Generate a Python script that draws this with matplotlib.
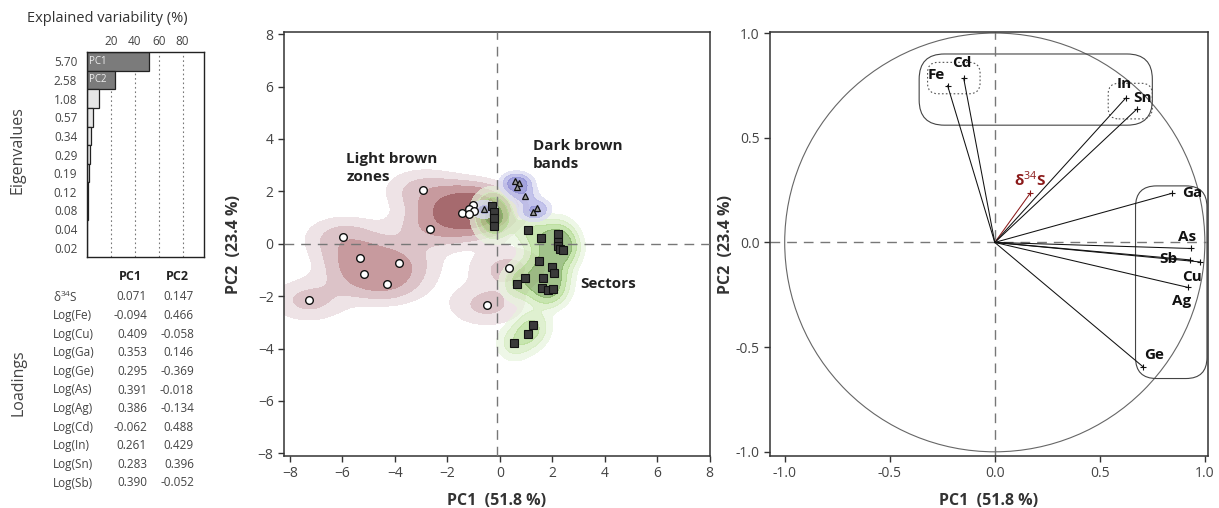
import numpy as np
import matplotlib.pyplot as plt
from matplotlib.patches import FancyBboxPatch, Circle

plt.rcParams['font.family'] = ['Open Sans', 'DejaVu Sans']
plt.rcParams['mathtext.fontset'] = 'custom'
plt.rcParams['mathtext.rm'] = 'Open Sans'
plt.rcParams['mathtext.bf'] = 'Open Sans:bold'

# eigenvalues of the 11 components
eigenvalues = [5.70, 2.58, 1.08, 0.57, 0.34, 0.29, 0.19, 0.12, 0.08, 0.04, 0.02]

# loadings table
variables = ["δ34S", "Fe", "Cu", "Ga", "Ge", "As", "Ag", "Cd", "In", "Sn", "Sb"]
loadings_pc1 = [0.071, -0.094, 0.409, 0.353, 0.295, 0.391, 0.386, -0.062, 0.261, 0.283, 0.390]
loadings_pc2 = [0.147, 0.466, -0.058, 0.146, -0.369, -0.018, -0.134, 0.488, 0.429, 0.396, -0.052]

# scores
zones_pc1 = [-2.93, -2.67, -1.44, -1.04, -1.16, -0.98, -1.16, -5.97, -5.33, -5.17, -3.85, -4.29, -7.29, 0.33, -0.50]
zones_pc2 = [2.05, 0.56, 1.18, 1.49, 1.31, 1.25, 1.12, 0.25, -0.53, -1.15, -0.73, -1.55, -2.16, -0.93, -2.34]
bands_pc1 = [-0.59, 0.59, 0.71, 0.66, 0.94, 1.40, 1.27]
bands_pc2 = [1.31, 2.38, 2.30, 2.18, 1.83, 1.37, 1.21]
sectors_pc1 = [-0.31, -0.22, -0.22, -0.22, 1.07, 1.55, 2.20, 2.20, 2.20, 2.30, 2.40, 1.50,
               1.98, 2.07, 1.65, 0.97, 0.65, 1.59, 1.82, 2.02, 1.28, 1.07, 0.53]
sectors_pc2 = [1.45, 1.21, 0.99, 0.67, 0.52, 0.20, 0.37, 0.06, -0.10, -0.19, -0.22, -0.65,
               -0.88, -1.13, -1.30, -1.30, -1.55, -1.70, -1.77, -1.72, -3.10, -3.44, -3.80]

W, H = 1219, 508
fig = plt.figure(figsize=(W / 100, H / 100), dpi=100)


def px_axes(l, t, r, b):
    return fig.add_axes([l / W, 1 - b / H, (r - l) / W, (b - t) / H])


def ftext(x, y, s, **kw):
    fig.text(x / W, 1 - y / H, s, **kw)


# ---- eigenvalue bars
ev = np.array(eigenvalues)
pct = ev / ev.sum() * 100
ax0 = px_axes(87, 52, 204, 257)
rows = np.arange(len(ev))
cols = ['#7b7b7b' if i < 2 else '#e6e6e6' for i in rows]
ax0.barh(rows, pct, height=1.0, color=cols, edgecolor='#222', lw=0.9)
for i in range(2):
    ax0.text(1.5, i, 'PC%d' % (i + 1), color='#eee', fontsize=7, va='center')
for v in [20, 40, 60, 80]:
    ax0.axvline(v, color='#777', ls=(0, (1.5, 2.5)), lw=0.8, zorder=0)
ax0.set_xlim(0, 98)
ax0.set_ylim(len(ev) - 0.5, -0.5)
ax0.xaxis.tick_top()
ax0.set_xticks([20, 40, 60, 80])
ax0.set_yticks(rows, ['%.2f' % e for e in ev])
ax0.tick_params(length=0, labelsize=8.5, labelcolor='#444', pad=7)
ax0.tick_params(axis='x', pad=3)
for s in ax0.spines.values():
    s.set_color('#222')
    s.set_linewidth(1.0)
ftext(107, 18, 'Explained variability (%)', fontsize=10.5, color='#333', ha='center', va='center')
ftext(18, 150, 'Eigenvalues', fontsize=11.5, color='#444', rotation=90, ha='center', va='center')
ftext(18, 383, 'Loadings', fontsize=11.5, color='#444', rotation=90, ha='center', va='center')

# ---- loadings table
ftext(130, 277, 'PC1', fontsize=9, fontweight='bold', color='#222', ha='center', va='center')
ftext(177, 277, 'PC2', fontsize=9, fontweight='bold', color='#222', ha='center', va='center')
for i, name in enumerate(variables):
    y = 297 + i * 18.6
    label = 'δ$^{34}$S' if i == 0 else 'Log(%s)' % name
    ftext(53, y, label, fontsize=8.5, color='#444', va='center')
    ftext(147, y, '%.3f' % loadings_pc1[i], fontsize=8.5, color='#444', ha='right', va='center')
    ftext(194, y, '%.3f' % loadings_pc2[i], fontsize=8.5, color='#444', ha='right', va='center')

# ---- scores plot
ax1 = px_axes(284, 32, 710, 456)
gx, gy = np.meshgrid(np.linspace(-8.3, 8.1, 330), np.linspace(-8.2, 8.2, 330))


def density(px, py, hx, hy):
    d = np.zeros_like(gx)
    for a, b in zip(px, py):
        d += np.exp(-0.5 * ((gx - a) / hx) ** 2 - 0.5 * ((gy - b) / hy) ** 2)
    return d


ax1.contourf(gx, gy, density(zones_pc1, zones_pc2, 1.0, 0.55), levels=[0.4, 0.85, 1.5, 2.7, 100],
             colors=['#eee3e6', '#dcc3c8', '#c79a9e', '#a66a6e'], zorder=1)
ax1.contourf(gx, gy, density(sectors_pc1, sectors_pc2, 0.42, 0.42), levels=[0.3, 0.75, 1.4, 2.4, 100],
             colors=['#e8f4dd', '#d2ebbc', '#b0da8e', '#79a85a'], alpha=0.7, zorder=2)
ax1.contourf(gx, gy, density(bands_pc1, bands_pc2, 0.33, 0.22), levels=[0.3, 0.8, 1.6, 100],
             colors=['#dcdcf2', '#b4b4e6', '#8c8cd4'], alpha=0.8, zorder=2)

ax1.axhline(0, color='#777', lw=1, dashes=(7, 5), zorder=3)
ax1.axvline(-0.1, color='#777', lw=1, dashes=(7, 5), zorder=3)
ax1.plot(zones_pc1, zones_pc2, 'o', ms=5.5, mfc='white', mec='#111', mew=1.0, zorder=5)
ax1.plot(bands_pc1, bands_pc2, '^', ms=5, mfc='#9a9a9a', mec='#111', mew=0.9, zorder=5)
ax1.plot(sectors_pc1, sectors_pc2, 's', ms=6, mfc='#3a3a3a', mec='#111', mew=0.8, zorder=5)

ax1.text(-5.85, 2.9, 'Light brown\nzones', fontsize=11, fontweight='bold', color='#222',
         va='center', linespacing=1.35, zorder=6)
ax1.text(1.25, 3.38, 'Dark brown\nbands', fontsize=11, fontweight='bold', color='#222',
         va='center', linespacing=1.35, zorder=6)
ax1.text(3.05, -1.54, 'Sectors', fontsize=11, fontweight='bold', color='#222', va='center', zorder=6)

ax1.set_xlim(-8.23, 8.01)
ax1.set_ylim(-8.1, 8.08)
ax1.set_xticks(np.arange(-8, 9, 2))
ax1.set_yticks(np.arange(-8, 9, 2))
ax1.set_xlabel('PC1  (51.8 %)', fontsize=11.5, fontweight='bold', color='#333', labelpad=8)
ax1.set_ylabel('PC2  (23.4 %)', fontsize=11.5, fontweight='bold', color='#333')
ax1.yaxis.set_label_coords(-0.099, 0.5)

# ---- correlation circle
ax2 = px_axes(770, 32, 1208, 456)
ax2.add_patch(Circle((0, 0), 1, fill=False, ec='#666', lw=0.8))
ax2.axhline(0, color='#777', lw=1, dashes=(7, 5))
ax2.axvline(0, color='#777', lw=1, dashes=(7, 5))

vx = np.array(loadings_pc1) * np.sqrt(eigenvalues[0])
vy = np.array(loadings_pc2) * np.sqrt(eigenvalues[1])
label_off = {"δ34S": (0, 10), "Fe": (-8, 8), "Cd": (-1, 11), "Ga": (15, 0), "Ge": (8, 8),
             "As": (-3, 8), "Cu": (-6, -11), "Ag": (-5, -10), "In": (-1, 10), "Sn": (4, 8),
             "Sb": (-16, 1)}
for i, name in enumerate(variables):
    c = '#8b1a1a' if i == 0 else '#111'
    ax2.plot([0, vx[i]], [0, vy[i]], color=c, lw=0.75)
    ax2.plot(vx[i], vy[i], '+', color=c, ms=5, mew=0.8)
    label = 'δ$^{34}$S' if i == 0 else name
    ax2.annotate(label, (vx[i], vy[i]), xytext=label_off[name], textcoords='offset points',
                 ha='center', va='center', fontsize=11, fontweight='bold', color=c)

# grouping boxes
box_kw = dict(fill=False, ec='#444', lw=0.8)
ax2.add_patch(FancyBboxPatch((-0.30, 0.62), 0.99, 0.22, boxstyle='round,pad=0.06,rounding_size=0.12', **box_kw))
ax2.add_patch(FancyBboxPatch((0.73, -0.59), 0.22, 0.80, boxstyle='round,pad=0.06,rounding_size=0.1', **box_kw))
ax2.add_patch(FancyBboxPatch((-0.30, 0.73), 0.21, 0.11, boxstyle='round,pad=0.02,rounding_size=0.05',
                             fill=False, ec='#555', lw=0.8, ls=(0, (1.5, 2))))
ax2.add_patch(FancyBboxPatch((0.56, 0.61), 0.17, 0.13, boxstyle='round,pad=0.02,rounding_size=0.05',
                             fill=False, ec='#555', lw=0.8, ls=(0, (1.5, 2))))

ax2.set_xlim(-1.07, 1.015)
ax2.set_ylim(-1.02, 1.005)
ax2.set_xticks([-1, -0.5, 0, 0.5, 1])
ax2.set_yticks([-1, -0.5, 0, 0.5, 1])
ax2.set_xticklabels(['-1.0', '-0.5', '0.0', '0.5', '1.0'])
ax2.set_yticklabels(['-1.0', '-0.5', '0.0', '0.5', '1.0'])
ax2.set_xlabel('PC1  (51.8 %)', fontsize=11.5, fontweight='bold', color='#333', labelpad=8)
ax2.set_ylabel('PC2  (23.4 %)', fontsize=11.5, fontweight='bold', color='#333')
ax2.yaxis.set_label_coords(-0.082, 0.5)

for ax in (ax1, ax2):
    ax.tick_params(direction='out', length=4, width=1, color='#333', labelsize=10, labelcolor='#444')
    for s in ax.spines.values():
        s.set_color('#333')
        s.set_linewidth(1.1)

fig.savefig('out.png', dpi=100)
